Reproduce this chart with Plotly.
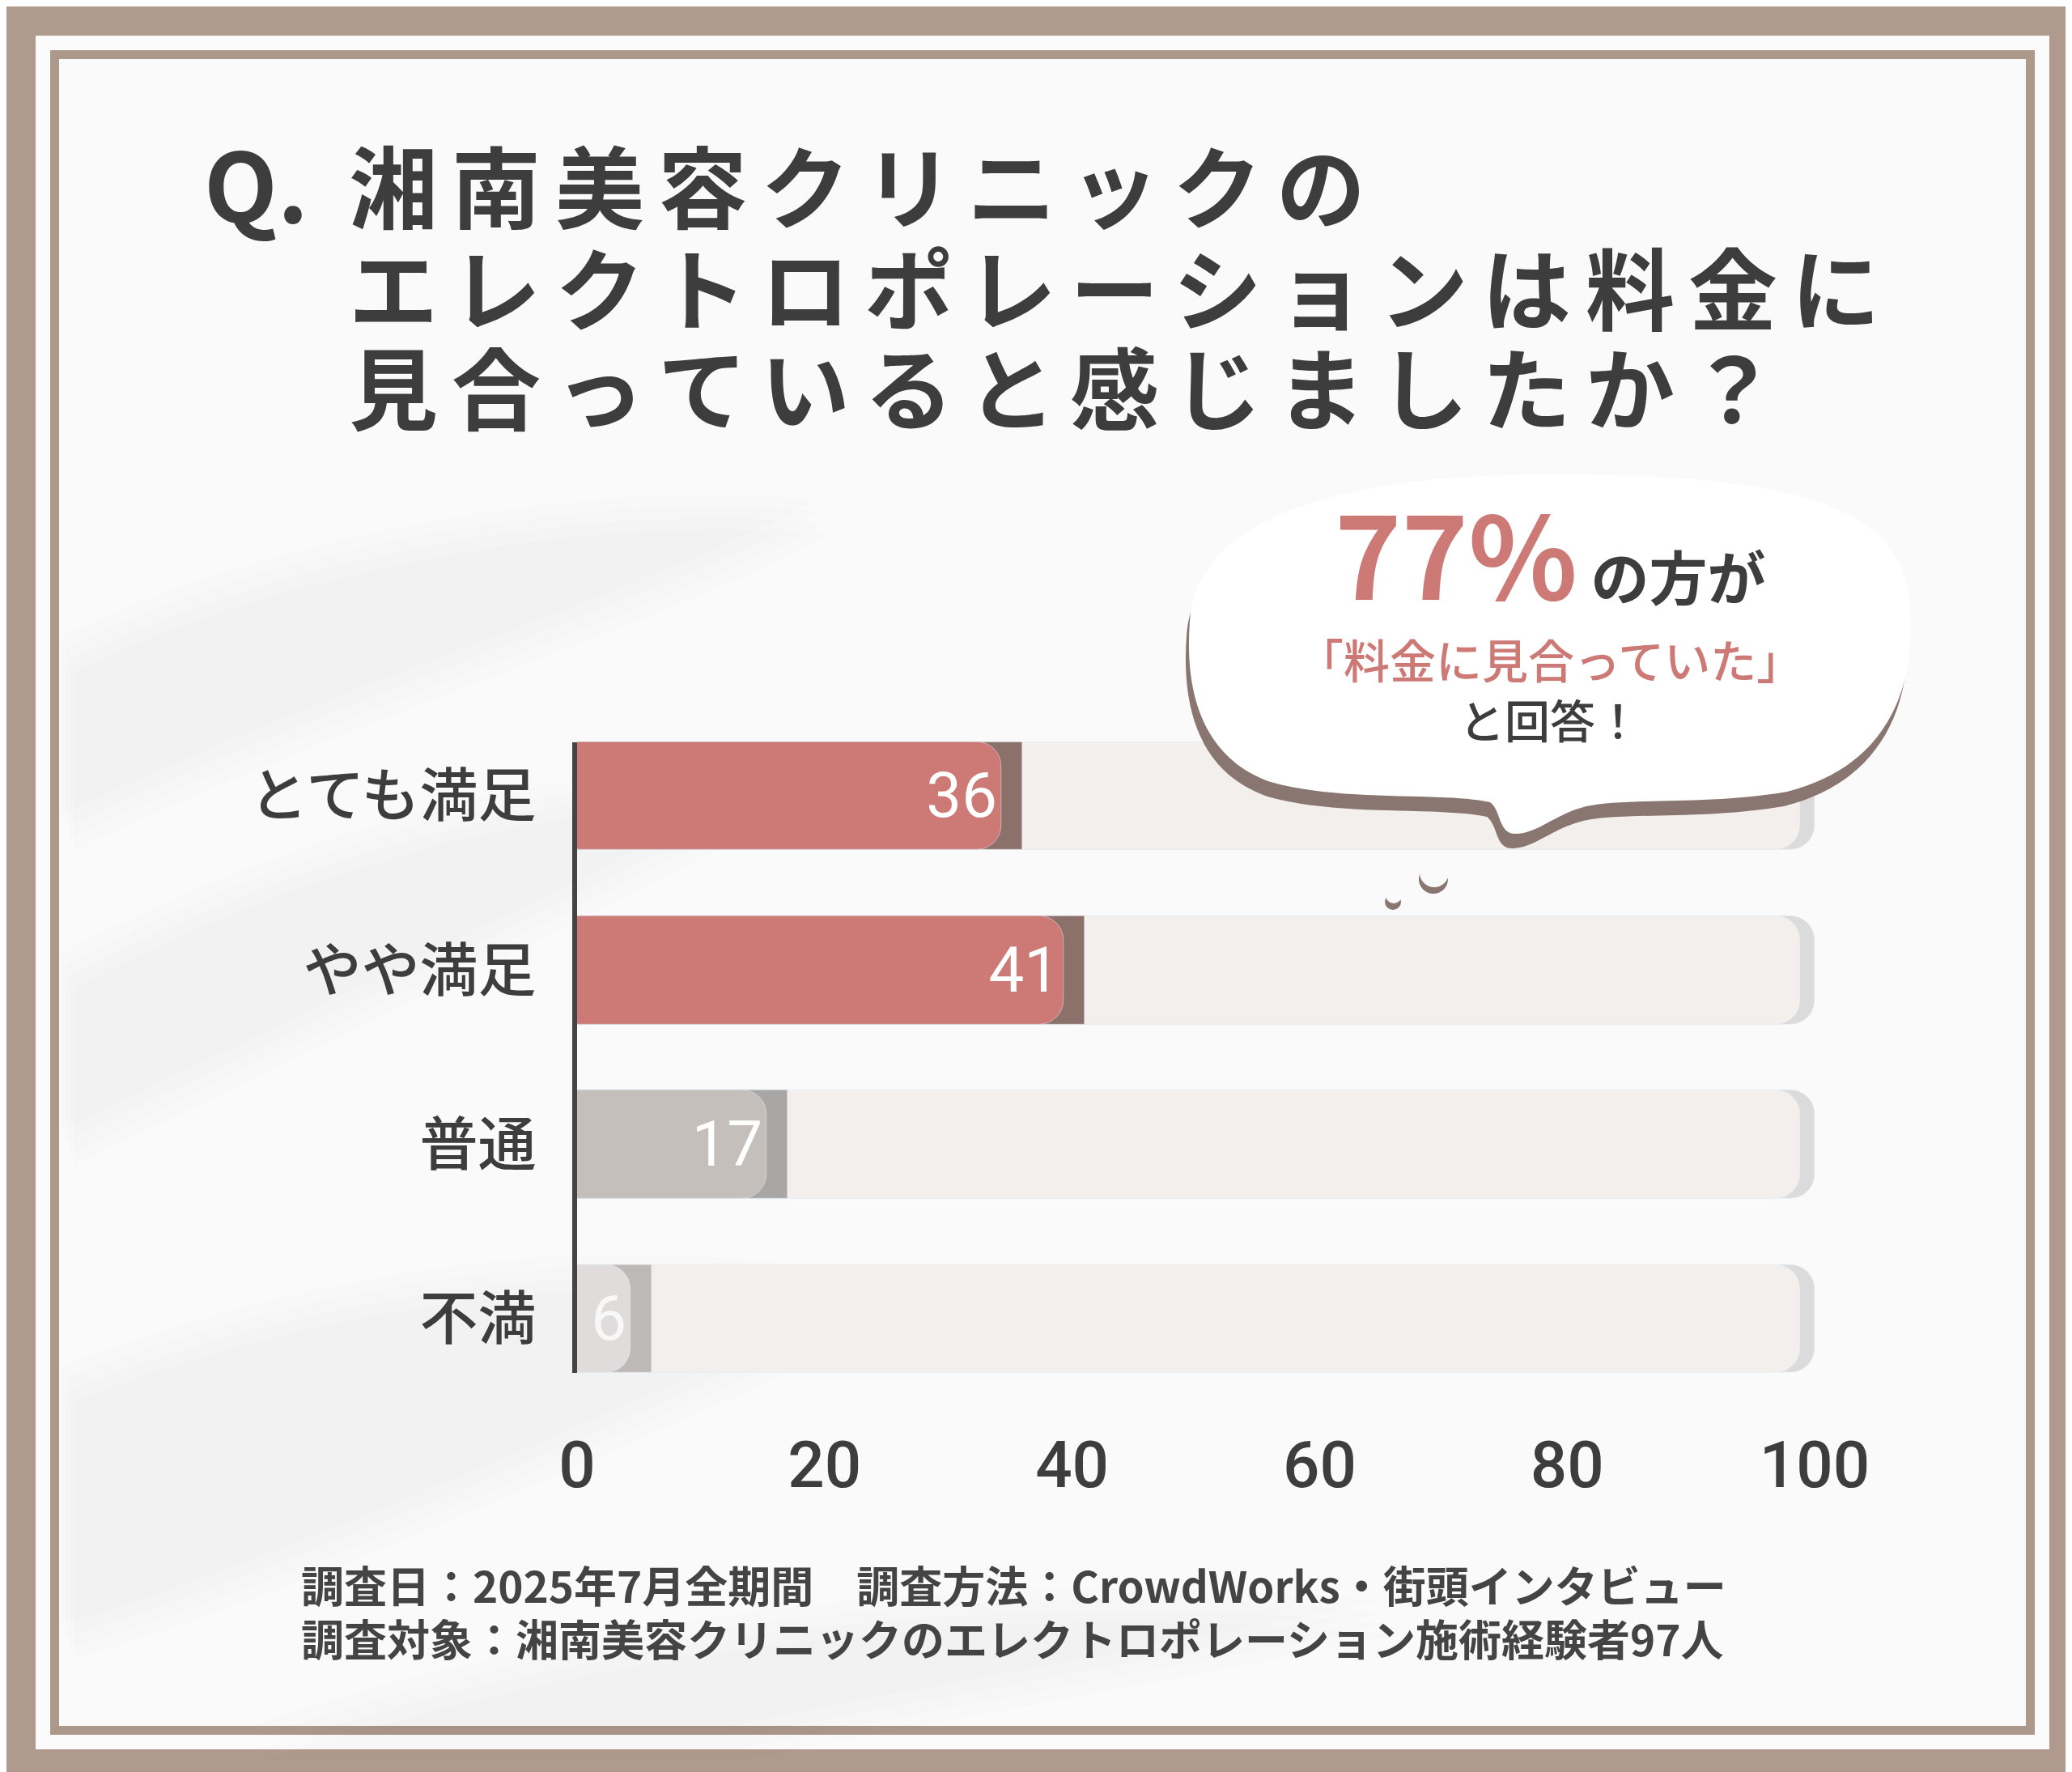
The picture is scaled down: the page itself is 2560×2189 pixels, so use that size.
import plotly.graph_objects as go

# ---------------- data ----------------
categories = ["とても満足", "やや満足", "普通", "不満"]
values = [36, 41, 17, 6]
bar_colors = ["#cd7a76", "#cd7a76", "#c5bfbc", "#dfdcdb"]
edge_colors = ["#8c716b", "#8c716b", "#a9a7a6", "#bcb9b7"]
label_colors = ["#ffffff", "#ffffff", "#ffffff", "#f8f8f8"]
x_ticks = [0, 20, 40, 60, 80, 100]
x_max = 100

title_prefix = "Q."
title_lines = ["湘南美容クリニックの", "エレクトロポレーションは料金に", "見合っていると感じましたか？"]
bubble_pct = "77%"
bubble_line1_rest = "の方が"
bubble_line2 = "「料金に見合っていた」"
bubble_line3 = "と回答！"
footer_lines = [
    "調査日：2025年7月全期間　調査方法：CrowdWorks・街頭インタビュー",
    "調査対象：湘南美容クリニックのエレクトロポレーション施術経験者97人",
]

# ---------------- style ----------------
W, H = 2560, 2189
FONT = "Noto Sans CJK JP"
DARK = "#3d3d3d"
RED = "#cd7a76"
FRAME = "#b09a8d"
PANEL = "#fafafa"
TRACK = "#f3efed"
TRACK_EDGE = "#dcdbdb"
BUBBLE_SHADOW = "#8a7670"
EDGE = 1.7        # depth of the bar's darker right edge (axis units)
TRACK_DEPTH = 1.2


def px(x):
    return x / W


def py(y):
    return 1 - y / H


def to_path(segments, dx=0, dy=0):
    parts = []
    for cmd, pts in segments:
        parts.append(cmd + " " + " ".join(f"{px(x + dx):.5f},{py(y + dy):.5f}" for x, y in pts))
    return " ".join(parts) + " Z"


fig = go.Figure()

# background tracks (full scale): darker rim ends at the scale max, face sits slightly left
fig.add_trace(go.Bar(y=categories, x=[x_max] * len(categories), orientation="h",
                     marker=dict(color=TRACK_EDGE, cornerradius=30), width=0.62,
                     hoverinfo="skip", showlegend=False))
fig.add_trace(go.Bar(y=categories, x=[x_max] * len(categories), base=-TRACK_DEPTH, orientation="h",
                     marker=dict(color=TRACK, cornerradius=30), width=0.62,
                     hoverinfo="skip", showlegend=False))
# value bars: rim ends exactly at the value, face shifted left by the rim depth
fig.add_trace(go.Bar(y=categories, x=values, orientation="h",
                     marker=dict(color=edge_colors, cornerradius=30), width=0.62,
                     hoverinfo="skip", showlegend=False))
fig.add_trace(go.Bar(y=categories, x=values, base=-EDGE, orientation="h",
                     marker=dict(color=bar_colors, cornerradius=30), width=0.62,
                     text=[str(v) for v in values], textposition="inside",
                     insidetextanchor="end", textangle=0,
                     textfont=dict(family="Roboto", size=78, color=label_colors),
                     hoverinfo="skip", showlegend=False))

shapes = []
# frame: white gap + inner brown line + panel
shapes.append(dict(type="rect", xref="paper", yref="paper", layer="below",
                   x0=px(36), x1=px(W - 36), y0=py(36), y1=py(H - 36),
                   fillcolor="#fbfbfb", line=dict(width=0)))
shapes.append(dict(type="rect", xref="paper", yref="paper", layer="below",
                   x0=px(59.5), x1=px(W - 59.5), y0=py(59.5), y1=py(H - 59.5),
                   fillcolor=PANEL, line=dict(color="#ad998c", width=11)))

# faint, soft leaf shadows on the panel (layered for soft edges)
leaf_shadows = [
    [("M", [(66, 780)]), ("C", [(300, 660), (700, 580), (1000, 610)]),
     ("C", [(800, 720), (400, 840), (66, 1000)])],
    [("M", [(66, 1170)]), ("C", [(350, 1020), (700, 920), (950, 950)]),
     ("C", [(700, 1090), (350, 1250), (66, 1390)])],
    [("M", [(66, 1680)]), ("C", [(400, 1550), (800, 1500), (1100, 1580)]),
     ("C", [(800, 1710), (400, 1900), (66, 2000)])],
    [("M", [(300, 2124)]), ("C", [(700, 1990), (1200, 1920), (1700, 1970)]),
     ("C", [(1300, 2050), (1000, 2100), (900, 2124)])],
]
for seg in leaf_shadows:
    for k in range(4):
        shapes.append(dict(type="path", xref="paper", yref="paper", layer="below",
                           path=to_path(seg, k * 6, k * 14), fillcolor="rgba(0,0,0,0.008)",
                           line=dict(width=0)))

# speech bubble
bubble = [
    ("M", [(1905, 578)]),
    ("C", [(2150, 578), (2335, 600), (2350, 725)]),
    ("C", [(2365, 845), (2320, 940), (2200, 970)]),
    ("C", [(2100, 987), (2000, 977), (1952, 988)]),
    ("C", [(1912, 998), (1892, 1022), (1864, 1022)]),
    ("C", [(1843, 1022), (1847, 993), (1833, 983)]),
    ("C", [(1770, 970), (1650, 983), (1562, 958)]),
    ("C", [(1482, 930), (1455, 855), (1462, 760)]),
    ("C", [(1470, 620), (1680, 578), (1905, 578)]),
]
shapes.append(dict(type="path", xref="paper", yref="paper", layer="above",
                   path=to_path(bubble, -4, 18), fillcolor=BUBBLE_SHADOW, line=dict(width=0)))
shapes.append(dict(type="path", xref="paper", yref="paper", layer="above",
                   path=to_path(bubble), fillcolor="#ffffff", line=dict(width=0)))
# thought dots
for cx, cy, r in [(1764, 1070, 18), (1714, 1098, 10)]:
    shapes.append(dict(type="circle", xref="paper", yref="paper", layer="above",
                       x0=px(cx - r - 1), x1=px(cx + r - 1), y0=py(cy - r + 8), y1=py(cy + r + 8),
                       fillcolor=BUBBLE_SHADOW, line=dict(width=0)))
    shapes.append(dict(type="circle", xref="paper", yref="paper", layer="above",
                       x0=px(cx - r), x1=px(cx + r), y0=py(cy - r), y1=py(cy + r),
                       fillcolor="#fafafa", line=dict(width=0)))

annotations = []
# title: "Q." and widely spaced characters (one text box per character, like the original)
annotations.append(dict(text=title_prefix, xref="paper", yref="paper", x=px(242), y=py(216),
                        xanchor="left", yanchor="middle", showarrow=False,
                        font=dict(family=FONT, size=118, color=DARK, weight=700)))
pitch_x = 127.3
for line, yc in zip(title_lines, [218, 344, 467]):
    for ci, ch in enumerate(line):
        annotations.append(dict(text=ch, xref="paper", yref="paper", x=px(478 + ci * pitch_x), y=py(yc),
                                xanchor="center", yanchor="middle", valign="middle",
                                height=118, showarrow=False,
                                font=dict(family=FONT, size=110, color=DARK, weight=700)))

# bubble text
annotations.append(dict(
    text=f"<span style='color:{RED}'>{bubble_pct}</span>"
         f"<span style='font-size:72px'> {bubble_line1_rest}</span>",
    xref="paper", yref="paper", x=px(1907), y=py(672), xanchor="center", yanchor="middle",
    showarrow=False, font=dict(family=FONT, size=140, color=DARK, weight=700)))
annotations.append(dict(text=bubble_line2, xref="paper", yref="paper", x=px(1907), y=py(805),
                        xanchor="center", yanchor="middle", showarrow=False,
                        font=dict(family=FONT, size=57, color=RED, weight=500)))
annotations.append(dict(text=bubble_line3, xref="paper", yref="paper", x=px(1907), y=py(880),
                        xanchor="center", yanchor="middle", showarrow=False,
                        font=dict(family=FONT, size=56, color=DARK, weight=500)))

# footer
for line, yc in zip(footer_lines, [1949, 2015]):
    annotations.append(dict(text=line, xref="paper", yref="paper", x=px(362), y=py(yc),
                            xanchor="left", yanchor="middle", valign="middle", height=64,
                            showarrow=False,
                            font=dict(family=FONT, size=53, color="#444444", weight=700)))

fig.update_layout(
    width=W, height=H, autosize=False,
    margin=dict(l=0, r=0, t=0, b=0, pad=0, autoexpand=False),
    paper_bgcolor=FRAME,
    plot_bgcolor="rgba(0,0,0,0)",
    barmode="overlay",
    bargap=0,
    shapes=shapes,
    annotations=annotations,
    xaxis=dict(domain=[705 / W, (705 + 102 * 15.29) / W], range=[0, 102], automargin=False,
               tickvals=x_ticks, ticktext=[str(t) for t in x_ticks],
               showgrid=False, zeroline=False, showline=False, ticks="",
               ticklabelstandoff=60,
               tickfont=dict(family="Roboto", size=80, color=DARK, weight=500)),
    yaxis=dict(type="category", categoryorder="array", categoryarray=categories,
               range=[3.31, -0.31], domain=[1 - 1687.5 / H, 1 - 908.5 / H], automargin=False,
               showgrid=False, zeroline=False, showline=True, linecolor="#444444", linewidth=6,
               ticks="", ticklabelstandoff=30,
               tickfont=dict(family=FONT, size=72, color=DARK, weight=500)),
)

fig.write_html("out.html")
